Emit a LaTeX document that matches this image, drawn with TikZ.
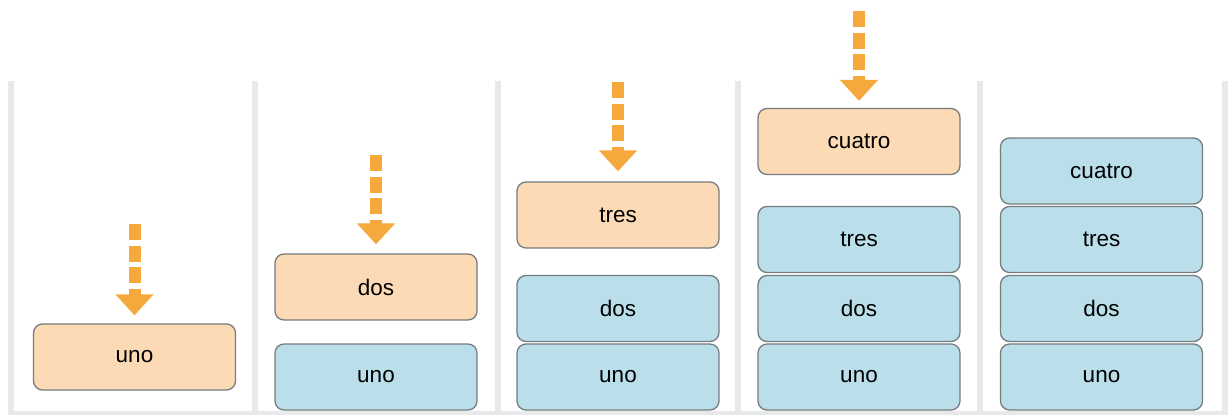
\documentclass[tikz,border=0pt]{standalone}
\usepackage{fontspec}
\setmainfont{Liberation Sans}
\usetikzlibrary{arrows.meta}
\definecolor{sepgray}{HTML}{E8E9EA}
\definecolor{newfill}{HTML}{FBDAB5}
\definecolor{oldfill}{HTML}{BADFEA}
\definecolor{boxline}{HTML}{767B7E}
\definecolor{arroworange}{HTML}{F5A93C}
\tikzset{
  itembox/.style={draw=boxline, line width=1.3pt, rounded corners=9pt,
    minimum width=202pt, minimum height=66pt, inner sep=0pt,
    font=\fontsize{22.5}{26}\selectfont, text=black},
  newbox/.style={itembox, fill=newfill},
  oldbox/.style={itembox, fill=oldfill},
  pusharrow/.style={draw=arroworange, line width=12pt, line cap=butt,
    dash pattern=on 16pt off 5.5pt,
    -{Triangle[width=37pt,length=21pt]}},
  sepbar/.style={fill=sepgray, draw=none}
}
\begin{document}
\begin{tikzpicture}[x=1pt,y=-1pt]
\useasboundingbox (0,0) rectangle (1231,415);
% separators
\foreach \sx in {11,254.5,497.5,737.5,980,1224.5}
  \fill[sepgray] (\sx-3,81) rectangle (\sx+3,415);
\fill[sepgray] (8,411) rectangle (1227.5,415);
% column 1
\node[newbox] (c1uno) at (134.5,357) {uno};
\coordinate (c1top) at (134.5,224);
\draw[pusharrow] (c1top) -- ([yshift=8pt]c1uno.north);
% column 2
\node[newbox] (c2dos) at (376,287) {dos};
\node[oldbox] (c2uno) at (376,377) {uno};
\coordinate (c2top) at (376,155);
\draw[pusharrow] (c2top) -- ([yshift=9pt]c2dos.north);
% column 3
\node[newbox] (c3tres) at (618,215) {tres};
\node[oldbox] (c3dos) at (618,308.5) {dos};
\node[oldbox] (c3uno) at (618,377) {uno};
\coordinate (c3top) at (618,82);
\draw[pusharrow] (c3top) -- ([yshift=10pt]c3tres.north);
% column 4
\node[newbox] (c4cuatro) at (859,141.5) {cuatro};
\node[oldbox] (c4tres) at (859,239.5) {tres};
\node[oldbox] (c4dos) at (859,308.5) {dos};
\node[oldbox] (c4uno) at (859,377) {uno};
\coordinate (c4top) at (859,11);
\draw[pusharrow] (c4top) -- ([yshift=7pt]c4cuatro.north);
% column 5
\node[oldbox] (c5cuatro) at (1101.5,171) {cuatro};
\node[oldbox] (c5tres) at (1101.5,239.5) {tres};
\node[oldbox] (c5dos) at (1101.5,308.5) {dos};
\node[oldbox] (c5uno) at (1101.5,377) {uno};
\end{tikzpicture}
\end{document}
